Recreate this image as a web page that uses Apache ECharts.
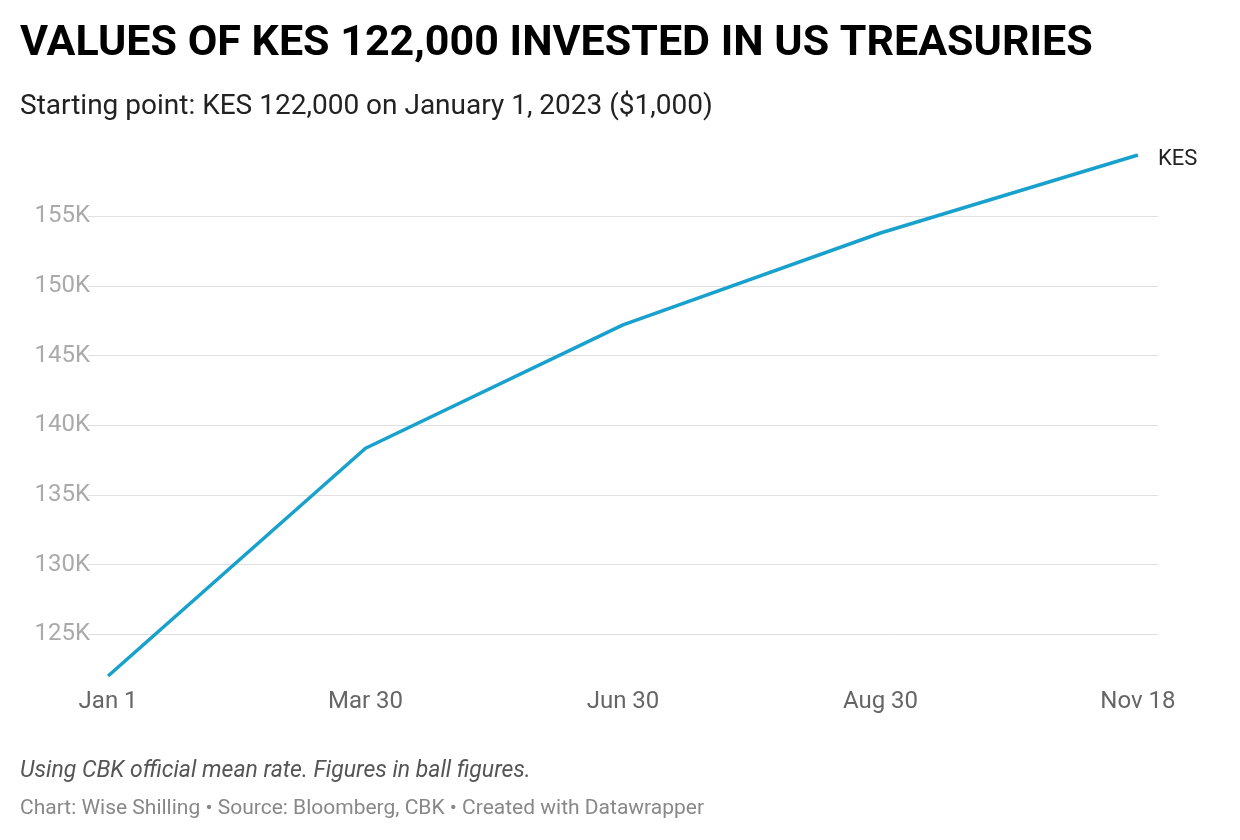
<!DOCTYPE html>
<html>
<head>
<meta charset="utf-8">
<script src="https://cdn.jsdelivr.net/npm/echarts@6/dist/echarts.min.js"></script>
<style>html,body{margin:0;background:#fff}#chart{width:1240px;height:840px}</style>
</head>
<body>
<div id="chart"></div>
<script>
const categories = ['Jan 1', 'Mar 30', 'Jun 30', 'Aug 30', 'Nov 18']
const kesValues = [122.0, 138.35, 147.2, 153.8, 159.4]
const yTicks = [125, 130, 135, 140, 145, 150, 155]

let myChart = echarts.init(document.getElementById('chart'))
const option = {
    backgroundColor: '#fff',
    textStyle: { fontFamily: 'Roboto' },
    title: [
        { text: 'VALUES OF KES 122,000 INVESTED IN US TREASURIES', left: 15, top: 18,
          textStyle: { fontSize: 43, fontWeight: 'bold', color: '#000', fontFamily: 'Roboto' } },
        { text: 'Starting point: KES 122,000 on January 1, 2023 ($1,000)', left: 15, top: 88,
          textStyle: { fontSize: 28, fontWeight: 'normal', color: '#222', fontFamily: 'Roboto' } },
        { text: 'Using CBK official mean rate. Figures in ball figures.', left: 15, top: 755,
          textStyle: { fontSize: 23, fontStyle: 'italic', fontWeight: 'normal', color: '#555', fontFamily: 'Roboto' } },
        { text: 'Chart: Wise Shilling • Source: Bloomberg, CBK • Created with Datawrapper', left: 15, top: 793,
          textStyle: { fontSize: 21, fontWeight: 'normal', color: '#888', fontFamily: 'Roboto' } }
    ],
    grid: { left: 88, right: 82, top: 155, bottom: 164 },
    xAxis: {
        type: 'value',
        min: -0.078, max: 4.078,
        axisLine: { show: false },
        axisTick: { show: false },
        splitLine: { show: false },
        axisLabel: {
            customValues: [0, 1, 2, 3, 4],
            formatter: v => categories[Math.round(v)],
            color: '#666', fontSize: 24, margin: 14
        }
    },
    yAxis: {
        type: 'value',
        min: 122, max: 159.4,
        axisLine: { show: false },
        axisTick: { show: false, customValues: yTicks },
        splitLine: { show: true, lineStyle: { color: '#e0e0e0', width: 1 } },
        axisLabel: {
            customValues: yTicks,
            formatter: v => v + 'K',
            color: '#aaa', fontSize: 24, margin: -2
        }
    },
    series: [{
        name: 'KES',
        type: 'line',
        data: kesValues.map((v, i) => [i, v]),
        symbol: 'none',
        color: '#18a1cd',
        lineStyle: { width: 3.5 },
        endLabel: { show: true, formatter: 'KES', color: '#222', fontSize: 22, offset: [12, 4] }
    }]
}
myChart.setOption(option)
</script>
</body>
</html>
